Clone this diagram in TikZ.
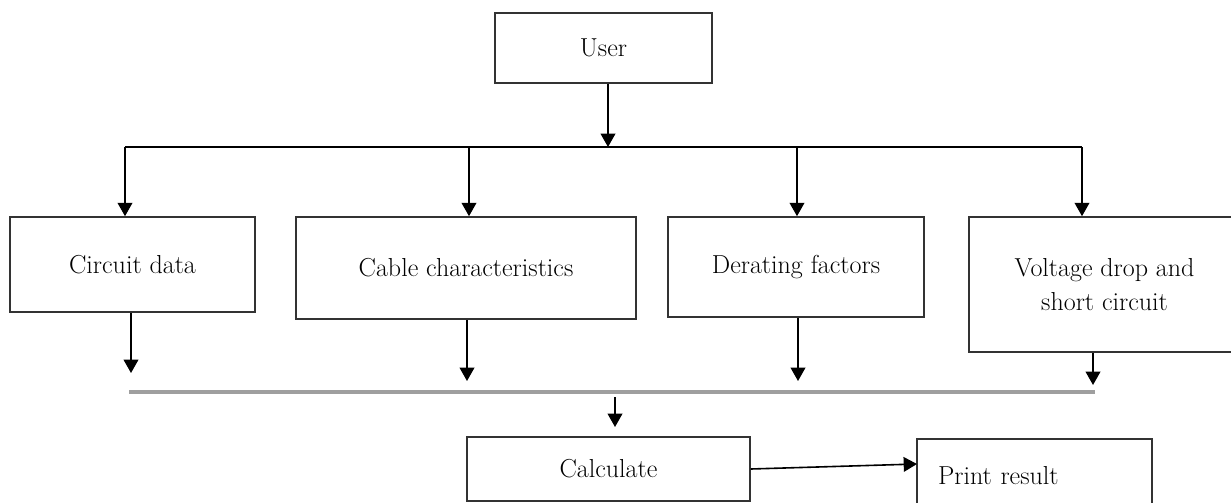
\documentclass[tikz,border=0pt]{standalone}
\usetikzlibrary{arrows.meta}

\begin{document}
\begin{tikzpicture}[x=0.75pt,y=-0.75pt,>={Triangle[width=11pt,length=10pt]},
  every node/.append style={font=\fontsize{19.5}{25}\selectfont},
  box/.style={draw=black!80,line width=1.2pt,inner sep=0pt,align=center},
  link/.style={->,line width=1.2pt},
  bus/.style={line width=1.2pt},
  lowbus/.style={gray!75,line width=2.4pt}]
  \useasboundingbox (0,0) rectangle (1231,503);

  \node[box,minimum width=162.75pt,minimum height=52.5pt] (user) at (603.5,48) {User};

  \node[box,minimum width=183.75pt,minimum height=71.25pt] (circ) at (132.5,264.5) {Circuit data};
  \node[box,minimum width=255pt,minimum height=76.5pt] (cable) at (466,268) {Cable characteristics};
  \node[box,minimum width=192pt,minimum height=75pt] (derat) at (796,267) {Derating factors};
  \node[box,minimum width=203.25pt,minimum height=101.25pt] (volt) at (1104.5,284.5) {Voltage drop and\\short circuit};

  \node[box,minimum width=212.25pt,minimum height=48pt] (calc) at (608.5,469) {Calculate};
  \node[box,minimum width=176.25pt,minimum height=54.75pt,text width=144.75pt,
    inner xsep=15.75pt,align=left] (print) at (1034.5,475.5) {Print result};

  % upper bus
  \coordinate (tl) at (125,147);
  \coordinate (tr) at (1082,147);
  \coordinate (tu) at (608,147);
  \coordinate (t2) at (469,147);
  \coordinate (t3) at (797,147);
  \draw[bus] (tl) -- (tr);
  \draw[link] (user.south -| tu) -- (tu);
  \draw[link] (tl) -- (tl |- circ.north);
  \draw[link] (t2) -- (t2 |- cable.north);
  \draw[link] (t3) -- (t3 |- derat.north);
  \draw[link] (tr) -- (tr |- volt.north);

  % lower bus
  \coordinate (bl) at (129,392);
  \coordinate (br) at (1095,392);
  \coordinate (b1) at (131,373);
  \coordinate (b2) at (467,381);
  \coordinate (b3) at (798,381);
  \coordinate (b4) at (1093,385);
  \draw[lowbus] (bl) -- (br);
  \draw[link] (circ.south -| b1) -- (b1);
  \draw[link] (cable.south -| b2) -- (b2);
  \draw[link] (derat.south -| b3) -- (b3);
  \draw[link] (volt.south -| b4) -- (b4);

  \coordinate (c1) at (615,397);
  \coordinate (c2) at (615,427);
  \draw[link] (c1) -- (c2);

  \coordinate (p1) at (917,464);
  \draw[link] (calc.east) -- (p1);
\end{tikzpicture}
\end{document}
